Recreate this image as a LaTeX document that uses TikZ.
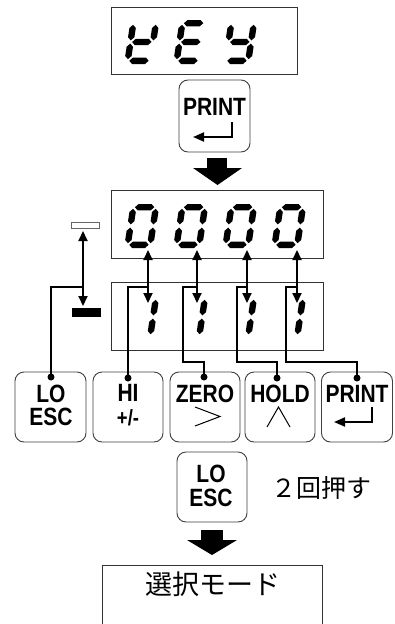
\documentclass[tikz,border=0pt]{standalone}
\usepackage{fontspec}
\setmainfont{Liberation Sans}
\newfontfamily\btnfont[FakeStretch=0.84]{Liberation Sans}
\newfontfamily\jpfont{Noto Sans CJK JP}
\usetikzlibrary{arrows.meta}
% seven segment helpers (local units: pt, y up)
\newcommand{\hsg}[3]{\fill (#1,#3) -- (#1+3.2,#3+3.2) -- (#2-3.2,#3+3.2) -- (#2,#3) -- (#2-3.2,#3-3.2) -- (#1+3.2,#3-3.2) -- cycle;}
\newcommand{\vsg}[3]{\fill (#1,#2) -- (#1+3.2,#2+3.2) -- (#1+3.2,#3-3.2) -- (#1,#3) -- (#1-3.2,#3-3.2) -- (#1-3.2,#2+3.2) -- cycle;}
\newcommand{\sgA}{\hsg{4.8}{24.2}{40.8}}
\newcommand{\sgB}{\vsg{25.8}{23.6}{39.2}}
\newcommand{\sgC}{\vsg{25.8}{4.8}{20.4}}
\newcommand{\sgD}{\hsg{4.8}{24.2}{3.2}}
\newcommand{\sgE}{\vsg{3.2}{4.8}{20.4}}
\newcommand{\sgF}{\vsg{3.2}{23.6}{39.2}}
\newcommand{\sgG}{\hsg{4.8}{24.2}{22}}
\newcommand{\segdigit}[3]{\begin{scope}[shift={(#1,#2)},x=1pt,y=1pt,xslant=0.15]#3\end{scope}}
\begin{document}
\begin{tikzpicture}[x=1pt,y=-1pt,
  dispbox/.style={draw=black!80,line width=0.9pt},
  btn/.style={draw=black!75,line width=0.9pt,rounded corners=9pt,minimum width=70pt,minimum height=70pt,inner sep=0pt},
  btxt/.style={font=\btnfont\bfseries\fontsize{25}{25}\selectfont,inner sep=0pt,anchor=base},
  wire/.style={line width=2pt},
  dbl/.style={line width=2pt,{Triangle[length=10pt,width=9pt]}-{Triangle[length=10pt,width=9pt]}},
  entr/.style={line width=2pt,-{Triangle[length=11pt,width=9pt]}},
  dot/.style={circle,fill=black,inner sep=0pt,minimum size=7pt},
  bigarrow/.style={fill=black}]
\useasboundingbox (0,0) rectangle (395,624);
\fill[white] (0,0) rectangle (395,624);

% KEY display
\node[dispbox,minimum width=186pt,minimum height=67pt,inner sep=0pt] (keydisp) at (204,40.5) {};
\segdigit{124}{64}{\sgF\sgB\sgG\sgE\sgD}
\segdigit{173}{64}{\sgA\sgF\sgG\sgE\sgD}
\segdigit{222}{64}{\sgF\sgB\sgG\sgC\sgD}

% top PRINT button
\node[btn,minimum width=71pt,minimum height=72pt] (topprint) at (214.5,116) {};
\node[btxt] (topprinttxt) at (214.5,115) {PRINT};
\coordinate (tpe1) at (232,122);
\coordinate (tpe2) at (232,137);
\coordinate (tpe3) at (193,137);
\draw[entr] (tpe1) -- (tpe2) -- (tpe3);

% big arrow 1
\fill[bigarrow] (207,158) rectangle (227,169);
\fill[bigarrow] (193,168) -- (242,168) -- (217.5,185) -- cycle;

% 0000 display
\node[dispbox,minimum width=212pt,minimum height=68pt,inner sep=0pt] (zerodisp) at (217,224) {};
\foreach \xx in {124,173,222,271}{\segdigit{\xx}{248}{\sgA\sgB\sgC\sgD\sgE\sgF}}

% 1111 display
\node[dispbox,minimum width=212pt,minimum height=68pt,inner sep=0pt] (onedisp) at (217,316) {};
\foreach \xx in {124,173,222,271}{\segdigit{\xx}{339}{\sgB\sgC}}

% minus indicators
\node[draw=black!60,line width=0.9pt,minimum width=28pt,minimum height=6pt,inner sep=0pt] (mout) at (85,225) {};
\node[fill=black,minimum width=29pt,minimum height=9pt,inner sep=0pt] (mbar) at (86.5,312.5) {};
\coordinate (ma) at (83,231);
\coordinate (mb) at (83,306);
\draw[dbl] (ma) -- (mb);

% digit arrows
\foreach \i/\xx in {1/148,2/197,3/247,4/297}{
  \coordinate (t\i) at (\xx,250);
  \coordinate (b\i) at (\xx,303);
  \coordinate (j\i) at (\xx,287);
  \draw[dbl] (t\i) -- (b\i);
}
\coordinate (j0) at (83,287);

% buttons row
\node[btn,minimum width=71pt] (lo) at (50.5,407) {};
\node[btn] (hi) at (128,407) {};
\node[btn] (zero) at (205,407) {};
\node[btn] (hold) at (280,407) {};
\node[btn,minimum width=71pt] (print) at (357,407) {};

\node[btxt] (lot1) at (51,402) {LO};
\node[btxt] (lot2) at (51,425) {ESC};
\node[btxt] (hit1) at (128,401) {HI};
\node[btxt,font=\btnfont\bfseries\fontsize{22}{22}\selectfont] (hit2) at (128,425) {+/-};
\node[btxt] (zt1) at (205,402) {ZERO};
\node[btxt] (ht1) at (280,402) {HOLD};
\node[btxt] (pt1) at (357,402) {PRINT};

% symbols
\coordinate (gt1) at (195,407);
\coordinate (gt2) at (220,416.5);
\coordinate (gt3) at (195,426);
\draw[line width=1pt] (gt1) -- (gt2) -- (gt3);
\coordinate (wd1) at (267,427);
\coordinate (wd2) at (278.5,407);
\coordinate (wd3) at (290,427);
\draw[line width=1pt] (wd1) -- (wd2) -- (wd3);
\coordinate (pe1) at (372,407);
\coordinate (pe2) at (372,422);
\coordinate (pe3) at (334,422);
\draw[entr] (pe1) -- (pe2) -- (pe3);

% dots
\node[dot] (lodot) at (51,377) {};
\node[dot] (hidot) at (128,378) {};
\node[dot] (zdot) at (204,377) {};
\node[dot] (hodot) at (277,378) {};
\node[dot] (pdot) at (357,378) {};

% wires
\coordinate (k2) at (183,362);
\coordinate (k3) at (237,362);
\coordinate (k4) at (286,362);
\draw[wire] (j0) -| (lodot.center);
\draw[wire] (j1) -| (hidot.center);
\draw[wire] (j2) -| (k2) -| (zdot.center);
\draw[wire] (j3) -| (k3) -| (hodot.center);
\draw[wire] (j4) -| (k4) -| (pdot.center);

% second LO ESC
\node[btn] (lo2) at (212,487) {};
\node[btxt] (lo2t1) at (211,482) {LO};
\node[btxt] (lo2t2) at (211,506) {ESC};
\node[font=\jpfont\fontsize{25}{25}\selectfont,anchor=base west,inner sep=0pt] (twice) at (271,497) {２回押す};

% big arrow 2
\fill[bigarrow] (201,530) rectangle (223,541);
\fill[bigarrow] (187,540) -- (237,540) -- (212,555) -- cycle;

% mode box
\node[dispbox,minimum width=220pt,minimum height=64pt,inner sep=0pt] (mode) at (212,597) {};
\node[font=\jpfont\fontsize{27}{27}\selectfont,anchor=base,inner sep=0pt] (modet) at (213,594) {選択モード};
\end{tikzpicture}
\end{document}
